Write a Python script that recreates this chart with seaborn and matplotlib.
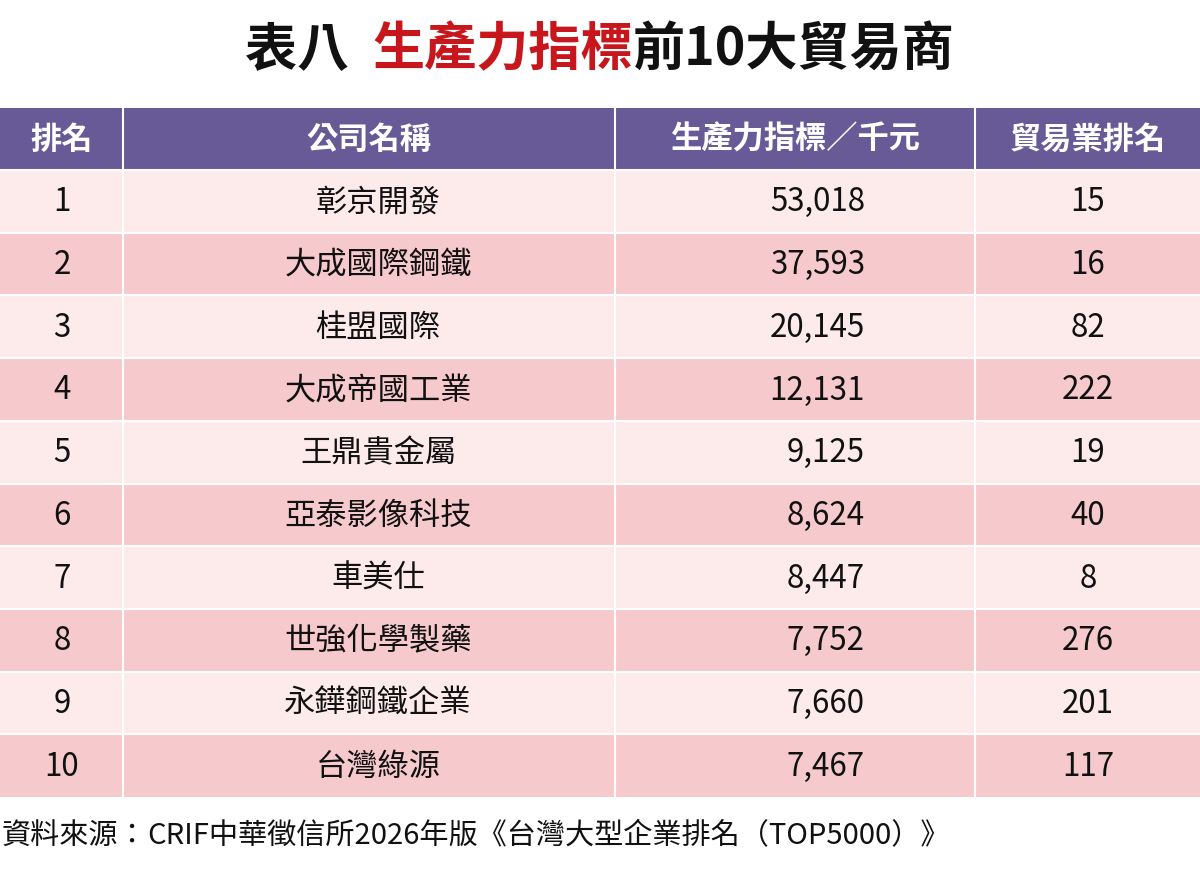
import matplotlib
matplotlib.use("Agg")
import matplotlib.pyplot as plt
import seaborn as sns
from matplotlib.patches import Rectangle
from matplotlib.transforms import Affine2D

sns.set_theme(style="white")
plt.rcParams['font.family'] = ['Noto Sans CJK TC', 'DejaVu Sans']

ranks = [1, 2, 3, 4, 5, 6, 7, 8, 9, 10]
companies = ["彰京開發", "大成國際鋼鐵", "桂盟國際", "大成帝國工業", "王鼎貴金屬",
             "亞泰影像科技", "車美仕", "世強化學製藥", "永鏵鋼鐵企業", "台灣綠源"]
productivity = [53018, 37593, 20145, 12131, 9125, 8624, 8447, 7752, 7660, 7467]
trade_rank = [15, 16, 82, 222, 19, 40, 8, 276, 201, 117]
headers = ["排名", "公司名稱", "生產力指標／千元", "貿易業排名"]

col_edges = [0, 123, 615, 975, 1200]
header_top, header_bot = 108, 170
row_h = 62.7
purple = "#675A97"
light, dark = "#FDEBEC", "#F6CACD"
FS = 22.5

fig = plt.figure(figsize=(12, 8.73), dpi=100)
ax = fig.add_axes([0, 0, 1, 1])
ax.set_xlim(0, 1200)
ax.set_ylim(873, 0)
ax.axis("off")

fig.canvas.draw()
r = fig.canvas.get_renderer()
parts = [("表八  ", "#111111"), ("生產力指標", "#C8161D"), ("前10大貿易商", "#111111")]
texts = [ax.text(0, 50, p, fontsize=37.5, fontweight="bold", color=c, va="center", ha="left") for p, c in parts]
widths = [t.get_window_extent(r).width for t in texts]
x = 600 - sum(widths) / 2
for t, w in zip(texts, widths):
    t.set_x(x)
    x += w

for i in range(4):
    ax.add_patch(Rectangle((col_edges[i], header_top), col_edges[i + 1] - col_edges[i],
                           header_bot - header_top, color=purple, lw=0))
    ax.text((col_edges[i] + col_edges[i + 1]) / 2, (header_top + header_bot) / 2 + 1, headers[i],
            color="white", fontsize=FS, fontweight="bold", ha="center", va="center")

for k in range(len(ranks)):
    y0 = header_bot + k * row_h
    ax.add_patch(Rectangle((0, y0), 1200, row_h, color=light if k % 2 == 0 else dark, lw=0))
    yc = y0 + row_h / 2 + 1
    kw = dict(fontsize=FS, va="center", color="#111111", fontweight="medium")
    ax.text(62, yc, str(ranks[k]), ha="center", **kw)
    ax.text(378, yc, companies[k], ha="center", **kw)
    ax.text(865, yc, f"{productivity[k]:,}", ha="right", **kw)
    ax.text(1088, yc, str(trade_rank[k]), ha="center", **kw)
    ax.plot([0, 1200], [y0, y0], color="white", lw=1.5)

bottom = header_bot + len(ranks) * row_h
for xe in col_edges[1:-1]:
    ax.plot([xe, xe], [header_top, bottom], color="white", lw=1.5)

t1 = ax.text(2, 836, "資料來源：", fontsize=21, ha="left", va="center", color="#111111")
w1 = t1.get_window_extent(r).width
X, Y = ax.transData.transform((2 + w1, 836))
tr = ax.transData + Affine2D().translate(-X, -Y).skew_deg(12, 0).translate(X, Y)
ax.text(2 + w1, 836, "CRIF中華徵信所2026年版《台灣大型企業排名（TOP5000）》", fontsize=21,
        ha="left", va="center", color="#111111", transform=tr)

fig.savefig("out.png", dpi=100)
